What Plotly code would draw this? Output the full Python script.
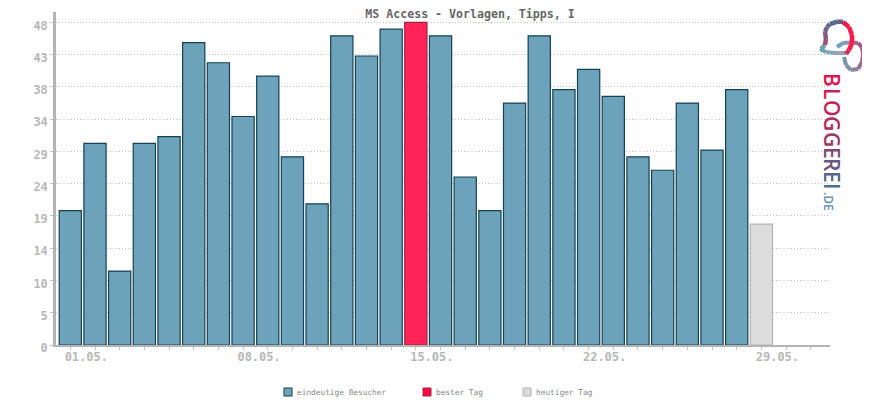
import plotly.graph_objects as go

# Values
days = list(range(1, 32))
day_labels = ['%02d.05.' % d if d % 7 == 1 else '' for d in days]
visitors = [20, 30, 11, 30, 31, 45, 42, 34, 40, 28, 21, 46, 43, 47, None, 46, 25, 20, 36, 46, 38, 41,
            37, 28, 26, 36, 29, 38, None, None, None]
best_day = [None] * 14 + [48] + [None] * 16
today = [None] * 28 + [18, None, None]
y_ticks = [0, 4.8, 9.6, 14.4, 19.2, 24, 28.8, 33.6, 38.4, 43.2, 48]
y_labels = ['0', '5', '10', '14', '19', '24', '29', '34', '38', '43', '48']

legend_names = ['eindeutige Besucher', 'bester Tag', 'heutiger Tag']
legend_fill = ['#6ca2ba', '#ff0a44', '#d8d8d8']
legend_edge = ['#154154', '#a81c44', '#b4b4b4']
legend_x = [284, 423, 523]

FONT = 'DejaVu Sans Mono'
# the page has an 8px body margin, so the figure starts at 8,8
W, H = 862, 392
LEFT, RIGHT, TOP, BOTTOM = 56, 830, 12, 345


def px(x):
    return (x - LEFT) / (RIGHT - LEFT)


def py(y):
    return (BOTTOM - y) / (BOTTOM - TOP)


fig = go.Figure()
fig.add_bar(x=days, y=visitors, name=legend_names[0], width=0.9,
            marker=dict(color=legend_fill[0], line=dict(color=legend_edge[0], width=1.2)))
fig.add_bar(x=days, y=best_day, name=legend_names[1], width=0.9,
            marker=dict(color='#ff2358', line=dict(color=legend_edge[1], width=1.2)))
fig.add_bar(x=days, y=today, name=legend_names[2], width=0.9,
            marker=dict(color='#dcdcdc', line=dict(color=legend_edge[2], width=1.2)))

fig.update_layout(
    width=W, height=H, autosize=False, barmode='overlay', paper_bgcolor='white', plot_bgcolor='white',
    margin=dict(l=LEFT - 8, r=40, t=TOP - 8, b=55), showlegend=False,
    title=dict(text='MS Access - Vorlagen, Tipps, I', x=(470 - 8) / W, xanchor='center',
               y=1 - (14 - 8) / H, yanchor='middle',
               font=dict(family=FONT, size=11.6, color='#666666', weight='bold')),
    xaxis=dict(range=[0.42, 31.78], tickmode='array', tickvals=days, ticktext=day_labels, ticks='outside',
               ticklen=3, tickcolor='#c0c0c0', showgrid=False, zeroline=False, showline=True,
               linecolor='#b4b4b4', linewidth=2, tickangle=0, ticklabelshift=16, ticklabelstandoff=-3,
               tickfont=dict(family=FONT, size=12, color='#b8b8b8', weight='bold')),
    yaxis=dict(range=[0, 49.55], tickmode='array', tickvals=y_ticks, ticktext=y_labels, ticks='outside',
               ticklen=3, tickcolor='#c0c0c0', showgrid=True, gridcolor='#c4c4c4', griddash='1px,2px', gridwidth=1,
               zeroline=False, showline=True, linecolor='#b4b4b4', linewidth=2.5, ticklabelshift=3,
               tickfont=dict(family=FONT, size=12, color='#b8b8b8', weight='bold')),
)

# legend row below the chart
for name, fill, edge, lx in zip(legend_names, legend_fill, legend_edge, legend_x):
    fig.add_shape(type='rect', xref='paper', yref='paper', x0=px(lx), x1=px(lx + 8), y0=py(388), y1=py(396),
                  fillcolor=fill, line=dict(color=edge, width=1))
    fig.add_annotation(text=name, xref='paper', yref='paper', x=px(lx + 11), y=py(392), showarrow=False,
                       xanchor='left', yanchor='middle', font=dict(family=FONT, size=7.8, color='#888888'))


def logo_stroke(points, colors, width):
    # short pieces, each with its own colour, stand in for the gradient
    for (x0, y0), (x1, y1), color in zip(points, points[1:], colors):
        fig.add_shape(type='line', xref='paper', yref='paper', x0=px(x0), y0=py(y0), x1=px(x1), y1=py(y1),
                      line=dict(color=color, width=width))


logo_stroke([(820, 49), (826, 52), (835, 53), (846, 53)], ['#6ca2ba', '#86a6bc', '#9aa0b5'], 4)
logo_stroke([(837, 47), (843, 43), (850, 42.5), (858, 43), (862, 47), (863, 54), (862, 62), (858, 69), (851, 70),
             (846, 65), (844, 57)],
            ['#6ca2ba', '#8a9ab2', '#a0708f', '#a8567f', '#aa5580', '#a8608a', '#9c7090', '#8f80a0', '#7f90a8',
             '#7596ae'], 4)
logo_stroke([(821, 49), (825, 45), (826, 39), (825, 32), (827, 27), (830, 24), (838, 21.5), (843, 22), (849, 27),
             (852, 35), (852, 43), (849, 50), (846, 54)],
            ['#6ca2ba', '#a04f75', '#8a5580', '#70628a', '#66668c', '#5a6c90', '#6b5a80', '#e0204f', '#ff1a4e',
             '#ff1a4e', '#ff1a4e', '#d82a55'], 4.5)

# one annotation per letter so the colour can run from red to blue
logo_letters = list('BLOGGEREI')
logo_colors = ['#e01450', '#d01c54', '#bf2558', '#ad2f5e', '#983a68', '#7f4a75', '#685781', '#55638d', '#4c6b92']
logo_pos = [80, 93, 108, 123, 139, 153, 165, 177, 186]
for letter, color, pos in zip(logo_letters, logo_colors, logo_pos):
    fig.add_annotation(text=letter, xref='paper', yref='paper', x=px(832), y=py(pos), showarrow=False, textangle=90,
                       font=dict(family='Open Sans', size=21, color=color, weight=600),
                       xanchor='center', yanchor='middle')
fig.add_annotation(text='.DE', xref='paper', yref='paper', x=px(829), y=py(201), showarrow=False, textangle=90,
                   font=dict(family='Open Sans', size=12, color='#5a90ad', weight=600),
                   xanchor='center', yanchor='middle')

fig.write_html('out.html')
